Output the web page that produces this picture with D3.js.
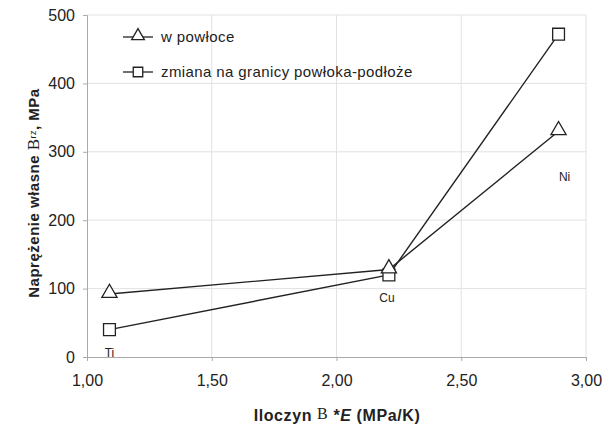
<!DOCTYPE html>
<html lang="pl">
<head>
<meta charset="UTF-8">
<title>Naprężenie własne</title>
<style>
  body { margin: 0; background: #fff; }
  text { font-family: "Liberation Sans", Arial, sans-serif; fill: #222; }
</style>
</head>
<body>
<div id="root"></div>
<script src="https://d3js.org/d3.v7.min.js"></script>
<script>
// data
const materials = ["Ti", "Cu", "Ni"]
const iloczyn = [1.09, 2.21, 2.89]
const wPowloce = [92, 128, 330]
const naGranicy = [40, 120, 472]
const xTicks = [1.0, 1.5, 2.0, 2.5, 3.0]
const yTicks = [0, 100, 200, 300, 400, 500]
const seriesNames = ["w powłoce", "zmiana na granicy powłoka-podłoże"]

const W = 614, H = 428
const margin = {top: 15, right: 28, bottom: 71, left: 87}
const width = W - margin.left - margin.right
const height = H - margin.top - margin.bottom

const svg = d3.select("#root").append("svg")
  .attr("width", W)
  .attr("height", H)

const g = svg.append("g")
  .attr("transform", `translate(${margin.left},${margin.top})`)

const x = d3.scaleLinear().domain([1, 3]).range([0, width])
const y = d3.scaleLinear().domain([0, 500]).range([height, 0])

// grid
g.append("g").selectAll("line").data(yTicks.slice(1)).join("line")
  .attr("x1", 0).attr("x2", width)
  .attr("y1", d => y(d)).attr("y2", d => y(d))
  .attr("stroke", "#e2e2e2")
g.append("g").selectAll("line").data(xTicks.slice(1)).join("line")
  .attr("x1", d => x(d)).attr("x2", d => x(d))
  .attr("y1", 0).attr("y2", height)
  .attr("stroke", "#e2e2e2")

// axes
const fmt = d => d3.format(".2f")(d).replace(".", ",")
const xAxis = g.append("g")
  .attr("transform", `translate(0,${height})`)
  .call(d3.axisBottom(x).tickValues(xTicks).tickFormat(fmt).tickSize(4).tickPadding(14))
const yAxis = g.append("g")
  .call(d3.axisLeft(y).tickValues(yTicks).tickSize(4).tickPadding(8))
for (const a of [xAxis, yAxis]) {
  a.select(".domain").attr("stroke", "#aaa")
  a.selectAll(".tick line").attr("stroke", "#aaa")
  a.selectAll(".tick text")
    .attr("font-family", "'Liberation Sans', Arial, sans-serif")
    .attr("font-size", 16).attr("fill", "#333")
}

// lines
const line = d3.line().x(d => x(d[0])).y(d => y(d[1]))
const s1 = iloczyn.map((v, i) => [v, wPowloce[i]])
const s2 = iloczyn.map((v, i) => [v, naGranicy[i]])

g.append("path").datum(s1).attr("d", line)
  .attr("fill", "none").attr("stroke", "#222").attr("stroke-width", 1.4)
g.append("path").datum(s2).attr("d", line)
  .attr("fill", "none").attr("stroke", "#222").attr("stroke-width", 1.4)

const tri = d3.symbol().type(d3.symbolTriangle).size(100)
const sq = d3.symbol().type(d3.symbolSquare).size(140)
const triSmall = d3.symbol().type(d3.symbolTriangle).size(70)
const sqSmall = d3.symbol().type(d3.symbolSquare).size(90)

g.append("g").selectAll("path").data(s2).join("path")
  .attr("d", sq)
  .attr("transform", d => `translate(${x(d[0])},${y(d[1])})`)
  .attr("fill", "#fff").attr("stroke", "#222").attr("stroke-width", 1.3)
g.append("g").selectAll("path").data(s1).join("path")
  .attr("d", tri)
  .attr("transform", d => `translate(${x(d[0])},${y(d[1]) - 1})`)
  .attr("fill", "#fff").attr("stroke", "#222").attr("stroke-width", 1.3)

// material labels, placed under the lower marker of each material
const labelOffsets = [[0, 27], [-2, 27], [6, 50]]
g.append("g").selectAll("text").data(materials).join("text")
  .attr("x", (d, i) => x(iloczyn[i]) + labelOffsets[i][0])
  .attr("y", (d, i) => y(Math.min(wPowloce[i], naGranicy[i])) + labelOffsets[i][1])
  .attr("text-anchor", "middle")
  .attr("font-size", 12)
  .attr("fill", "#333")
  .text(d => d)

// legend
const legend = g.append("g").attr("transform", "translate(36,22)")
seriesNames.forEach((name, i) => {
  const row = legend.append("g").attr("transform", `translate(0,${i * 35})`)
  row.append("line").attr("x1", 0).attr("x2", 30).attr("y1", 0).attr("y2", 0)
    .attr("stroke", "#222").attr("stroke-width", 1.3)
  row.append("path").attr("d", i === 0 ? triSmall : sqSmall)
    .attr("transform", `translate(15,${i === 0 ? -1 : 0})`)
    .attr("fill", "#fff").attr("stroke", "#222").attr("stroke-width", 1.3)
  row.append("text").attr("x", 38).attr("y", 5)
    .attr("font-size", 15).attr("letter-spacing", 0.4).attr("fill", "#333")
    .text(name)
})

// axis titles
const xt = svg.append("text")
  .attr("x", 337)
  .attr("y", 421)
  .attr("text-anchor", "middle")
  .attr("font-size", 16).attr("font-weight", "bold").attr("letter-spacing", 0.6)
xt.append("tspan").text("Iloczyn ")
xt.append("tspan").attr("font-family", "'Liberation Serif', serif").attr("font-weight", "normal").attr("dy", -2).text("B")
xt.append("tspan").attr("dy", 2).text(" *")
xt.append("tspan").attr("font-style", "italic").text("E")
xt.append("tspan").text(" (MPa/K)")

const yt = svg.append("text")
  .attr("transform", "translate(39,193) rotate(-90)")
  .attr("text-anchor", "middle")
  .attr("font-size", 15).attr("font-weight", "bold").attr("letter-spacing", 0.5)
yt.append("tspan").text("Naprężenie własne ")
yt.append("tspan").attr("font-family", "'Liberation Serif', serif").attr("font-weight", "normal").attr("font-size", 17).text("B")
yt.append("tspan").attr("font-size", 9).attr("font-weight", "normal").attr("dy", -3).text("rz")
yt.append("tspan").attr("dy", 3).text(", MPa")
</script>
</body>
</html>
